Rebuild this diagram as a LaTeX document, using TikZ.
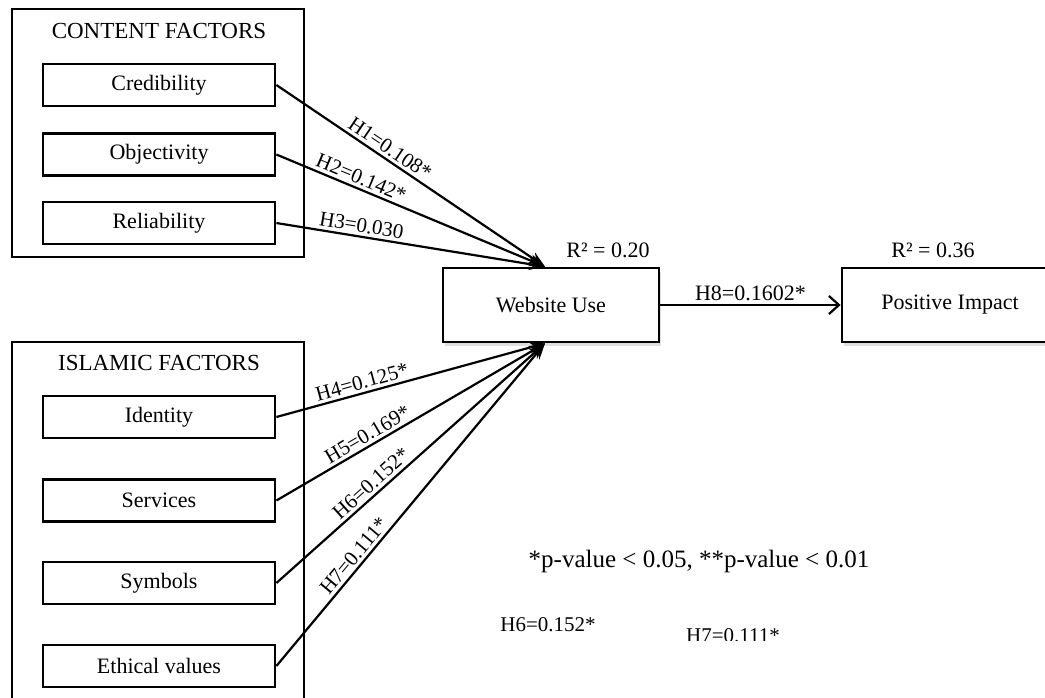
\documentclass[tikz,border=0pt]{standalone}
\usepackage{fontspec}
\setmainfont{Liberation Serif}
\usetikzlibrary{arrows.meta, shadows}

\begin{document}
\begin{tikzpicture}[
    x=0.5pt, y=-0.5pt,
    every node/.style={font=\fontsize{11}{13}\selectfont},
    >={Stealth[length=8pt, width=6pt]},
    frame/.style={line width=1.4pt},
    factor/.style={draw, line width=1.4pt, minimum width=116pt, minimum height=21pt, inner sep=0pt},
    outcome/.style={draw, line width=1.4pt, fill=white, minimum width=108pt, minimum height=37pt,
        inner sep=0pt, drop shadow={opacity=0.25, shadow xshift=1pt, shadow yshift=-2pt}},
    link/.style={->, line width=1.1pt},
    coef/.style={sloped, above, inner sep=1.5pt, font=\fontsize{10.5}{12}\selectfont}
]

% --- Page area ---
\clip (0,0) rectangle (1045,697);

% --- Content factors group ---
\draw[frame] (12,9) rectangle (304,257);
\node[font=\fontsize{11.5}{13}\selectfont] (ctitle) at (159,31) {CONTENT FACTORS};
\node[factor] (cred) at (159,85) {Credibility};
\node[factor] (obj) at (159,154.5) {Objectivity};
\node[factor] (rel) at (159,223) {Reliability};

% --- Islamic factors group ---
\draw[frame] (12,342) rectangle (304,720);
\node[font=\fontsize{11.5}{13}\selectfont] (ititle) at (159,363) {ISLAMIC FACTORS};
\node[factor] (ident) at (159,417) {Identity};
\node[factor] (serv) at (159,500.5) {Services};
\node[factor] (symb) at (159,583) {Symbols};
\node[factor] (ethic) at (159,666) {Ethical values};

% --- Outcomes ---
\node[outcome] (web) at (551,305) {Website Use};
\node[outcome] (impact) at (950,305) {Positive Impact};
\node (r2web) at (608,250) {R² = 0.20};
\node (r2impact) at (933,250) {R² = 0.36};

% --- Paths to website use ---
\draw[link] (cred.east) -- node[coef, pos=0.40] {H1=0.108*} ([xshift=-3pt]web.north);
\draw[link] (obj.east) -- node[coef, pos=0.30] {H2=0.142*} ([xshift=-3pt]web.north);
\draw[link] (rel.east) -- node[coef, pos=0.31] {H3=0.030} ([xshift=-3pt]web.north);
\draw[link] (ident.east) -- node[coef, pos=0.33] {H4=0.125*} ([xshift=-3pt]web.south);
\draw[link] (serv.east) -- node[coef, pos=0.36] {H5=0.169*} ([xshift=-3pt]web.south);
\draw[link] (symb.east) -- node[coef, pos=0.38] {H6=0.152*} ([xshift=-3pt]web.south);
\draw[link] (ethic.east) -- node[coef, pos=0.32] {H7=0.111*} ([xshift=-3pt]web.south);

% --- Path to positive impact ---
\draw[line width=1.1pt, -{Straight Barb[length=5pt, width=9pt, line width=1.1pt]}]
    (web.east) -- node[above, inner sep=1.5pt] {H8=0.1602*} (impact.west);

% --- Notes ---
\node[font=\fontsize{12.5}{15}\selectfont] (pnote) at (699,561) {*p-value < 0.05, **p-value < 0.01};
\node[font=\fontsize{10.5}{12}\selectfont] (h6note) at (548,625) {H6=0.152*};
\begin{scope}
    \clip (600,560) rectangle (850,640);
    \node[font=\fontsize{10.5}{12}\selectfont] (h7note) at (733,636) {H7=0.111*};
\end{scope}

\end{tikzpicture}
\end{document}
